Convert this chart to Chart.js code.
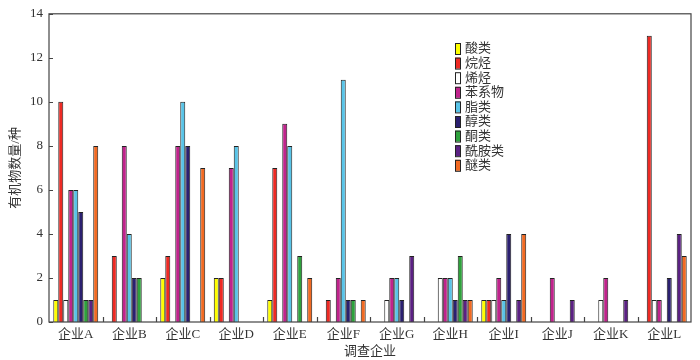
<!DOCTYPE html>
<html lang="zh">
<head>
  <meta charset="UTF-8" />
  <title>调查企业有机物数量</title>
  <script src="https://cdn.jsdelivr.net/npm/chart.js"></script>
  <style>
    body { margin: 0; background: #fff; }
    #wrap { width: 700px; height: 360px; }
  </style>
</head>
<body>
  <div id="wrap"><canvas id="chart"></canvas></div>
  <script>
    // data
    const companies = ['企业A','企业B','企业C','企业D','企业E','企业F','企业G','企业H','企业I','企业J','企业K','企业L'];
    const seriesNames = ['酸类','烷烃','烯烃','苯系物','脂类','醇类','酮类','酰胺类','醚类'];
    const acids    = [1, 0, 2, 2, 1, 0, 0, 0, 1, 0, 0, 0];
    const alkanes  = [10, 3, 3, 2, 7, 1, 0, 0, 1, 0, 0, 13];
    const alkenes  = [1, 0, 0, 0, 0, 0, 1, 2, 1, 0, 1, 1];
    const benzenes = [6, 8, 8, 7, 9, 2, 2, 2, 2, 2, 2, 1];
    const esters   = [6, 4, 10, 8, 8, 11, 2, 2, 1, 0, 0, 0];
    const alcohols = [5, 2, 8, 0, 0, 1, 1, 1, 4, 0, 0, 2];
    const ketones  = [1, 2, 0, 0, 3, 1, 0, 3, 0, 0, 0, 0];
    const amides   = [1, 0, 0, 0, 0, 0, 3, 1, 1, 1, 1, 4];
    const ethers   = [8, 0, 7, 0, 2, 1, 0, 1, 4, 0, 0, 3];
    const yTicks = [0, 2, 4, 6, 8, 10, 12, 14];

    const seriesValues = [acids, alkanes, alkenes, benzenes, esters, alcohols, ketones, amides, ethers];
    const colors = ['#ffff00','#ee2a24','#ffffff','#c0238c','#58c4e8','#2b2070','#2ea23c','#5b2183','#f26a22'];

    const serif = '"Liberation Serif", "Noto Sans CJK SC", serif';
    const ink = '#333';

    // frame, inward ticks and the legend box list
    const decor = {
      id: 'decor',
      afterDraw(chart) {
        const ctx = chart.ctx;
        const a = chart.chartArea;
        const x = chart.scales.x, y = chart.scales.y;
        ctx.save();
        ctx.strokeStyle = '#444';
        ctx.lineWidth = 1.2;
        ctx.strokeRect(a.left, a.top, a.right - a.left, a.bottom - a.top);
        ctx.beginPath();
        yTicks.forEach(v => {
          const py = Math.round(y.getPixelForValue(v)) + 0.5;
          ctx.moveTo(a.left, py);
          ctx.lineTo(a.left + 4, py);
        });
        for (let i = 1; i < companies.length; i++) {
          const px = Math.round((x.getPixelForTick(i - 1) + x.getPixelForTick(i)) / 2) + 0.5;
          ctx.moveTo(px, a.bottom);
          ctx.lineTo(px, a.bottom - 5);
        }
        ctx.stroke();

        // legend
        const lx = 455, ly0 = 43, step = 14.6;
        ctx.font = '13px ' + serif;
        ctx.textBaseline = 'middle';
        chart.data.datasets.forEach((ds, i) => {
          const ty = ly0 + i * step;
          ctx.fillStyle = ds.backgroundColor;
          ctx.fillRect(lx, ty, 5, 11);
          ctx.strokeStyle = '#222';
          ctx.lineWidth = 1;
          ctx.strokeRect(lx + 0.5, ty + 0.5, 5, 11);
          ctx.fillStyle = ink;
          ctx.fillText(ds.label, lx + 10, ty + 6);
        });
        ctx.restore();
      }
    };

    new Chart(document.getElementById('chart'), {
      type: 'bar',
      data: {
        labels: companies,
        datasets: seriesNames.map((name, i) => ({
          label: name,
          data: seriesValues[i],
          backgroundColor: colors[i],
          borderColor: '#222',
          borderWidth: 1,
          categoryPercentage: 0.84,
          barPercentage: 1
        }))
      },
      options: {
        responsive: true,
        maintainAspectRatio: false,
        animation: false,
        layout: { padding: { left: 0, top: 9, right: 9, bottom: 0 } },
        plugins: {
          legend: { display: false },
          tooltip: { enabled: false }
        },
        scales: {
          x: {
            grid: { display: false, drawTicks: false, tickLength: 0 },
            border: { display: false },
            ticks: { color: ink, font: { family: serif, size: 13 }, padding: 5 },
            title: { display: true, text: '调查企业', color: ink, font: { family: serif, size: 13 }, padding: { top: 0, bottom: 1 } },
            afterFit(s) { s.height = 38; }
          },
          y: {
            min: 0,
            max: 14,
            grid: { display: false, drawTicks: false, tickLength: 0 },
            border: { display: false },
            afterBuildTicks(s) { s.ticks = yTicks.map(v => ({ value: v })); },
            ticks: { color: ink, font: { family: serif, size: 13 }, padding: 6 },
            title: { display: true, text: '有机物数量/种', color: ink, font: { family: serif, size: 13 }, padding: { top: 8, bottom: 0 } },
            afterFit(s) { s.width = 49; }
          }
        }
      },
      plugins: [decor]
    });
  </script>
</body>
</html>
